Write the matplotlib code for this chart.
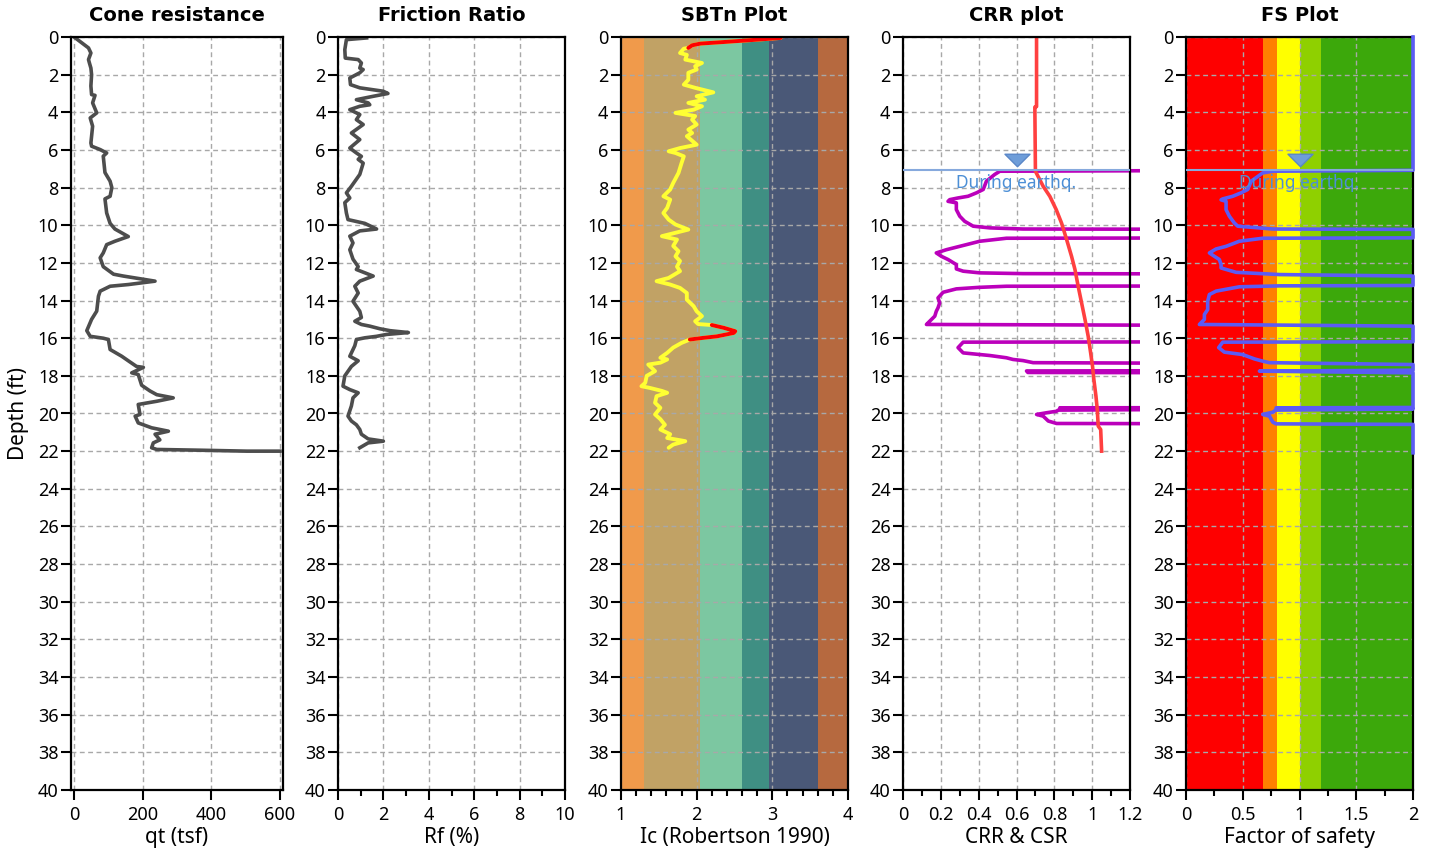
import matplotlib
matplotlib.use("Agg")
import matplotlib.pyplot as plt
from matplotlib.patches import Rectangle
from matplotlib.path import Path

plt.rcParams["font.family"] = ["Noto Sans", "DejaVu Sans"]

# ------------------------------------------------------------------
# DATA
# ------------------------------------------------------------------

# Cone resistance qt (tsf) vs depth (ft)
qt_depth = [0.0, 0.58, 0.85, 1.2, 1.4, 1.65, 2.0, 2.6, 3.06, 3.1, 3.5, 4.03,
            4.3, 4.74, 5.63, 5.8, 5.98, 6.16, 6.33, 7.2, 7.66, 8.0, 8.46, 8.6,
            9.35, 9.9, 10.2, 10.6, 10.85, 11.03, 11.47, 11.73, 12.2, 12.6, 12.7,
            12.97, 13.15, 13.24, 13.5, 13.77, 14.56, 15.0, 15.6, 15.9, 16.0,
            16.07, 16.6, 16.96, 17.2, 17.5, 17.55, 17.84, 17.93, 18.5, 18.8,
            19.0, 19.17, 19.35, 19.52, 20.05, 20.14, 20.5, 20.76, 20.94, 21.1,
            21.4, 21.56, 21.82, 21.91, 21.95, 22.0, 22.0]
qt_values = [0, 42, 49, 42, 45, 49, 51, 49, 51, 61, 54, 66,
             47, 54, 49, 51, 76, 95, 85, 90, 105, 110, 105, 90,
             95, 105, 119, 158, 119, 95, 85, 76, 85, 115, 144,
             236, 158, 105, 76, 71, 66, 51, 37, 47, 85,
             100, 105, 139, 158, 182, 202, 168, 187, 197, 221,
             241, 289, 241, 187, 192, 178, 187, 226, 275, 236,
             250, 231, 226, 241, 367, 503, 600]

# Friction ratio Rf (%) vs depth
rf_depth = [0.05, 0.14, 0.67, 1.12, 1.2, 1.38, 1.65, 1.73, 1.9, 2.18, 2.53, 2.7,
            2.88, 3.0, 3.15, 3.33, 3.5, 3.6, 3.68, 3.86, 4.12, 4.39, 4.65, 5.1,
            5.45, 5.9, 6.16, 6.34, 6.5, 6.7, 7.3, 7.93, 8.28, 8.55, 8.8, 9.35,
            9.7, 9.9, 10.2, 10.3, 10.58, 10.94, 11.3, 11.8, 12.2, 12.35, 12.7,
            12.97, 13.24, 13.6, 14.04, 14.57, 14.9, 15.1, 15.27, 15.36, 15.5,
            15.6, 15.7, 15.8, 15.9, 15.98, 16.07, 16.4, 16.96, 17.2, 17.5, 18.0,
            18.55, 18.73, 18.9, 19.17, 19.6, 20.14, 20.4, 20.6, 20.85, 21.1,
            21.35, 21.47, 21.56, 21.82]
rf_values = [1.26, 0.37, 0.30, 0.32, 0.89, 1.03, 0.96, 1.11, 0.96, 0.52, 0.55, 0.96,
             1.99, 2.2, 1.55, 0.81, 1.33, 1.4, 0.96, 0.52, 0.96, 0.81, 1.11, 0.59,
             0.96, 0.52, 0.81, 1.03, 0.89, 1.11, 0.96, 0.59, 0.37, 0.52, 0.30, 0.37,
             0.44, 1.18, 1.7, 0.96, 0.52, 0.66, 0.52, 0.66, 0.89, 0.81, 1.55,
             0.96, 0.74, 0.89, 0.66, 0.96, 1.03, 0.74, 1.03, 1.4, 1.85,
             2.29, 3.1, 2.14, 1.7, 1.18, 0.81, 0.74, 0.52, 0.89, 0.59, 0.30,
             0.22, 0.52, 0.89, 0.66, 0.59, 0.44, 0.59, 0.81, 0.96, 1.03,
             1.33, 2.0, 1.33, 0.96]

# SBTn index Ic vs depth, and depth ranges drawn in red
ic_depth = [0.05, 0.18, 0.28, 0.35, 0.44, 0.58, 0.62, 0.85, 0.95, 1.2, 1.38, 1.55,
            1.73, 1.9, 2.27, 2.53, 2.7, 2.94, 3.15, 3.33, 3.5, 3.68, 3.86, 4.03,
            4.2, 4.39, 4.65, 4.92, 5.1, 5.27, 5.72, 5.9, 6.07, 6.16, 6.34, 6.7,
            7.22, 7.75, 8.1, 8.46, 8.64, 9.08, 9.35, 9.7, 9.96, 10.23, 10.4,
            10.58, 10.76, 11.1, 11.38, 11.65, 11.9, 12.2, 12.44, 12.8, 12.97,
            13.15, 13.33, 13.6, 13.95, 14.3, 14.57, 14.83, 15.1, 15.25, 15.3,
            15.45, 15.63, 15.72, 15.9, 15.98, 16.07, 16.25, 16.5, 16.78, 17.04,
            17.13, 17.3, 17.4, 17.75, 18.0, 18.37, 18.55, 18.64, 18.8, 18.9,
            19.08, 19.43, 19.7, 20.05, 20.3, 20.6, 20.85, 21.1, 21.3, 21.47,
            21.65, 21.82]
ic_values = [3.11, 2.67, 2.31, 2.05, 1.94, 1.89, 1.83, 1.78, 1.87, 1.85, 2.07, 1.98,
             2.0, 1.89, 1.89, 1.83, 1.98, 2.22, 2.0, 2.11, 1.89, 2.07, 1.96, 1.72,
             1.98, 1.94, 2.0, 1.89, 1.94, 1.87, 2.0, 1.78, 1.63, 1.72, 1.83, 1.80,
             1.76, 1.69, 1.65, 1.56, 1.65, 1.61, 1.56, 1.63, 1.72, 1.89, 1.72,
             1.54, 1.74, 1.69, 1.76, 1.72, 1.78, 1.74, 1.78, 1.63, 1.47,
             1.65, 1.78, 1.87, 1.87, 1.96, 2.0, 2.07, 1.98, 2.02, 2.2,
             2.36, 2.51, 2.49, 2.27, 2.09, 1.91, 1.80, 1.69, 1.61, 1.52,
             1.61, 1.52, 1.36, 1.45, 1.34, 1.32, 1.27, 1.38, 1.54, 1.61,
             1.47, 1.45, 1.52, 1.45, 1.52, 1.58, 1.52, 1.65, 1.61, 1.85,
             1.69, 1.63]
ic_red_ranges = [(0.0, 0.58), (15.3, 16.07)]

# SBTn zone boundaries and colours
sbt_edges = [1.0, 1.31, 2.05, 2.60, 2.95, 3.60, 4.0]
sbt_colors = ["#F09A4B", "#C1A265", "#7CC7A1", "#3F8F83", "#4A5877", "#B6693F"]

# CSR (red) and CRR (magenta); 2.0 = capped, off the panel
csr_depth = [0.0, 3.7, 3.72, 7.13, 7.93, 8.46, 9.17, 9.88, 10.76, 11.65, 12.35,
             13.24, 14.12, 15.0, 15.9, 16.78, 17.5, 18.2, 19.08, 19.79, 20.67,
             20.85, 22.0]
csr_values = [0.706, 0.706, 0.697, 0.70, 0.741, 0.776, 0.81, 0.838, 0.865, 0.891,
              0.909, 0.926, 0.944, 0.962, 0.979, 0.992, 1.002, 1.009, 1.02, 1.027,
              1.032, 1.045, 1.05]

crr_depth = [7.08, 7.13, 7.30, 7.66, 8.10, 8.28, 8.46, 8.55, 8.64, 8.73, 8.81,
             9.17, 9.52, 9.79, 10.05, 10.14, 10.20, 10.22, 10.67, 10.69, 10.85,
             11.12, 11.30, 11.47, 11.65, 11.82, 12.09, 12.32, 12.44, 12.53, 12.57,
             12.59, 13.22, 13.24, 13.30, 13.38, 13.56, 13.86, 14.12, 14.39, 14.57,
             14.83, 15.10, 15.27, 15.33, 16.19, 16.21, 16.50, 16.78, 16.92, 17.04,
             17.13, 17.19, 17.30, 17.35, 17.72, 17.74, 17.82, 17.84, 19.68, 19.70,
             19.76, 19.82, 19.88, 19.96, 20.05, 20.14, 20.40, 20.53, 20.55, 22.0]
crr_values = [2.0, 0.512, 0.485, 0.441, 0.424, 0.388, 0.344, 0.291, 0.247, 0.238, 0.282,
              0.282, 0.300, 0.326, 0.371, 0.459, 0.635, 2.0, 2.0, 0.547, 0.406,
              0.300, 0.229, 0.176, 0.203, 0.238, 0.282, 0.282, 0.318, 0.406, 0.635,
              2.0, 2.0, 0.547, 0.400, 0.282, 0.212, 0.185, 0.194, 0.185, 0.176,
              0.168, 0.141, 0.124, 2.0, 2.0, 0.318, 0.291, 0.318, 0.459, 0.547,
              0.582, 0.635, 0.688, 2.0, 2.0, 0.653, 0.660, 2.0, 2.0, 0.829,
              2.0, 0.820, 0.812, 0.759, 0.706, 0.741, 0.768, 0.812, 2.0, 2.0]

# Factor of safety vs depth (2.0 = capped)
fs_depth = [0.0, 7.08, 7.13, 7.22, 7.66, 8.10, 8.28, 8.46, 8.60, 8.65, 8.73, 9.17,
            9.52, 9.88, 10.05, 10.20, 10.22, 10.67, 10.69, 10.85, 11.12, 11.26,
            11.47, 11.65, 11.82, 12.09, 12.27, 12.50, 12.62, 12.70, 13.20, 13.22,
            13.27, 13.50, 13.68, 14.04, 14.48, 14.74, 15.00, 15.27, 15.36, 16.19,
            16.21, 16.50, 16.74, 16.87, 17.10, 17.22, 17.30, 17.40, 17.70, 17.75,
            17.84, 19.68, 19.70, 19.76, 19.82, 19.93, 20.05, 20.14, 20.46, 20.55,
            20.58, 22.09]
fs_values = [2.0, 2.0, 0.765, 0.676, 0.574, 0.544, 0.485, 0.412, 0.324, 0.309, 0.353, 0.353,
             0.382, 0.426, 0.456, 0.765, 2.0, 2.0, 0.676, 0.470, 0.353, 0.265,
             0.206, 0.250, 0.294, 0.309, 0.309, 0.441, 0.824, 2.0, 2.0, 0.824,
             0.470, 0.265, 0.206, 0.191, 0.191, 0.162, 0.162, 0.118, 2.0, 2.0,
             0.324, 0.288, 0.338, 0.500, 0.603, 0.676, 0.735, 2.0, 2.0, 0.647,
             2.0, 2.0, 0.794, 2.0, 0.790, 0.765, 0.676, 0.735, 0.765, 0.794,
             2.0, 2.0]

fs_edges = [0.0, 0.68, 0.80, 1.0, 1.19, 2.0]
fs_colors = ["#FE0000", "#FF8000", "#FFFF00", "#8FD000", "#3CA80B"]

gwt_depth = 7.06
gwt_label = "During earthq."

# ------------------------------------------------------------------
# FIGURE
# ------------------------------------------------------------------

W, H = 1429, 855
fig = plt.figure(figsize=(W / 100, H / 100), dpi=100)


def add_panel(left, right, top=37, bottom=790):
    return fig.add_axes([left / W, (H - bottom) / H, (right - left) / W, (bottom - top) / H])


def style(ax, title, xlabel, xlim, major, labels=None, minor=None):
    ax.set_xlim(*xlim)
    ax.set_ylim(40, 0)
    ax.set_yticks(range(0, 41, 2))
    ax.set_xticks(major)
    if labels is not None:
        ax.set_xticklabels(labels)
    if minor is not None:
        ax.set_xticks(minor, minor=True)
    ax.grid(True, which="major", color="#a8a8a8", linestyle=(0, (3.5, 2.5)), linewidth=1.0)
    ax.set_axisbelow("line")
    for s in ax.spines.values():
        s.set_linewidth(1.6)
        s.set_color("black")
    ax.tick_params(which="major", length=7.5, width=1.5, labelsize=13, direction="out")
    ax.tick_params(axis="x", which="major", pad=4)
    ax.tick_params(axis="y", which="major", pad=1.5)
    ax.tick_params(which="minor", length=4.5, width=1.5)
    ax.set_title(title, fontsize=14, fontweight="bold", family="DejaVu Sans", pad=11.5)
    ax.set_xlabel(xlabel, fontsize=15, labelpad=2)


GRAY = "#4d4d4d"

# ---------- Cone resistance ----------
ax1 = add_panel(71, 283)
ax1.plot(qt_values, qt_depth, color=GRAY, lw=2.6)
style(ax1, "Cone resistance", "qt (tsf)", (-9, 609), [0, 200, 400, 600])
ax1.set_ylabel("Depth (ft)", fontsize=15, labelpad=6)

# ---------- Friction ratio ----------
ax2 = add_panel(338, 565)
ax2.plot(rf_values, rf_depth, color=GRAY, lw=2.6)
style(ax2, "Friction Ratio", "Rf (%)", (0, 10), range(0, 11, 2), minor=range(1, 10, 2))

# ---------- SBTn ----------
ax3 = add_panel(621, 848)
for lo, hi, c in zip(sbt_edges[:-1], sbt_edges[1:], sbt_colors):
    ax3.axvspan(lo, hi, color=c, lw=0, zorder=0)
ax3.plot(ic_values, ic_depth, color="#FFFF33", lw=2.8, solid_capstyle="round")
for d0, d1 in ic_red_ranges:
    idx = [i for i, d in enumerate(ic_depth) if d0 <= d <= d1]
    ax3.plot([ic_values[i] for i in idx], [ic_depth[i] for i in idx],
             color="#FF0000", lw=2.8, solid_capstyle="round")
style(ax3, "SBTn Plot", "Ic (Robertson 1990)", (1, 4), [1, 2, 3, 4],
      minor=[1 + 0.2 * k for k in range(16)])

# water-table marker
tri = Path([(-1, 0.5), (1, 0.5), (0, -0.5), (-1, 0.5)],
           [Path.MOVETO, Path.LINETO, Path.LINETO, Path.CLOSEPOLY])


def water_table(ax, x):
    ax.axhline(gwt_depth, color="#86A9DD", lw=1.5, zorder=3)
    ax.plot([x], [6.56], marker=tri, markersize=18, color="#6E9DD9",
            markeredgecolor="#5A87C8", markeredgewidth=1, zorder=4)
    ax.text(x, 7.75, gwt_label, color="#4C8FD6", fontsize=12.5,
            ha="center", va="center", zorder=4)


# ---------- CRR ----------
ax4 = add_panel(903, 1130)
crr_line, = ax4.plot(crr_values, crr_depth, color="#BB00BB", lw=2.6)
crr_line.set_clip_path(Rectangle((0, 0), 1.045, 1, transform=ax4.transAxes))
ax4.plot(csr_values, csr_depth, color="#FF4040", lw=2.6)
water_table(ax4, 0.6)
crr_ticks = [0, 0.2, 0.4, 0.6, 0.8, 1.0, 1.2]
style(ax4, "CRR plot", "CRR & CSR", (0, 1.2), crr_ticks,
      labels=["0", "0.2", "0.4", "0.6", "0.8", "1", "1.2"],
      minor=[0.1, 0.3, 0.5, 0.7, 0.9, 1.1])

# ---------- FS ----------
ax5 = add_panel(1186, 1413)
for lo, hi, c in zip(fs_edges[:-1], fs_edges[1:], fs_colors):
    ax5.axvspan(lo, hi, color=c, lw=0, zorder=0)
ax5.plot(fs_values, fs_depth, color="#5B5BF5", lw=2.6, clip_on=False, zorder=3)
water_table(ax5, 1.0)
style(ax5, "FS Plot", "Factor of safety", (0, 2), [0, 0.5, 1, 1.5, 2],
      labels=["0", "0.5", "1", "1.5", "2"], minor=[0.25, 0.75, 1.25, 1.75])

fig.savefig("out.png", dpi=100)
